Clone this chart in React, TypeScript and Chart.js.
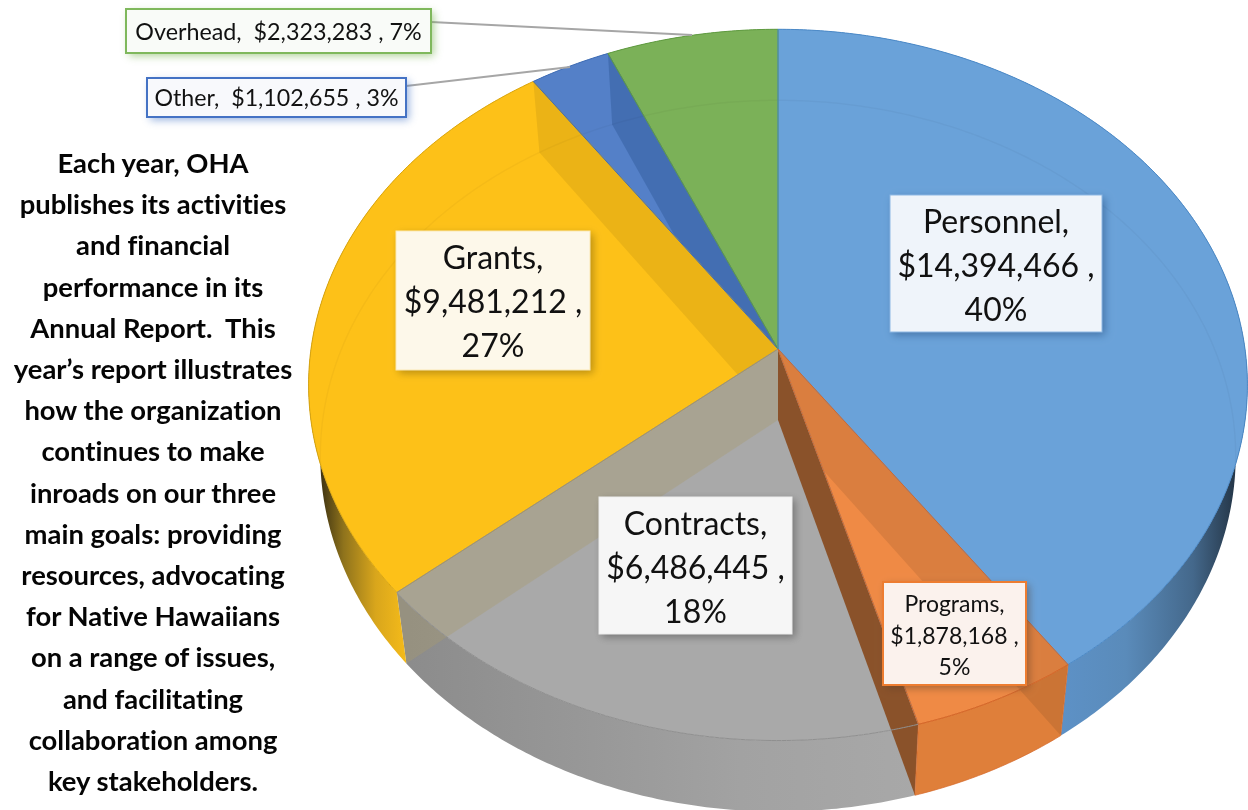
import React, { useEffect, useRef } from "react";
import { Chart, registerables } from "chart.js";

Chart.register(...registerables);

const categories = ["Personnel", "Programs", "Contracts", "Grants", "Other", "Overhead"];
const amounts = [14394466, 1878168, 6486445, 9481212, 1102655, 2323283];
const introLines = [
  "Each year, OHA",
  "publishes its activities",
  "and financial",
  "performance in its",
  "Annual Report.  This",
  "year\u2019s report illustrates",
  "how the organization",
  "continues to make",
  "inroads on our three",
  "main goals: providing",
  "resources, advocating",
  "for Native Hawaiians",
  "on a range of issues,",
  "and facilitating",
  "collaboration among",
  "key stakeholders.",
];

const topColors = ["#6AA2D9", "#EF8A45", "#A9A9A9", "#FDC118", "#5480C8", "#7BB158"];
const edgeColors = ["#4A88C6", "#D5682A", "#8F8F8F", "#D9A50F", "#3F6DB5", "#5F9A40"];
const wallStops: string[][] = [
  ["#5D91C6", "#5A8BBA", "#44688B", "#1E2C3A"],
  ["#DF7F3A", "#DF7F3A", "#DF7F3A", "#DF7F3A"],
  ["#8C8C8C", "#969696", "#A2A2A2", "#A8A8A8"],
  ["#2E2610", "#8F731C", "#D9A61C", "#F6BC1A"],
  ["#446EB3", "#446EB3", "#446EB3", "#446EB3"],
  ["#6A9C4A", "#6A9C4A", "#6A9C4A", "#6A9C4A"],
];
const wallRange: number[][] = [
  [1062, 1244],
  [918, 1068],
  [410, 918],
  [316, 408],
  [500, 620],
  [600, 778],
];

type Box = {
  x: number; y: number; w: number; h: number; size: number; gap: number; dy: number;
  fill: string; border: string; borderWidth: number; shadow: string; oneLine?: boolean;
};
const boxes: Box[] = [
  { x: 890, y: 195, w: 212, h: 137, size: 32, gap: 44, dy: 3, fill: "#EFF4FA", border: "#8DB8E4", borderWidth: 1, shadow: "rgba(40,80,130,.55)" },
  { x: 883, y: 582, w: 143, h: 103, size: 23, gap: 31.5, dy: 3, fill: "#FBF2ED", border: "#ED7D31", borderWidth: 2, shadow: "rgba(90,60,40,.5)" },
  { x: 599, y: 497, w: 193, h: 137, size: 32, gap: 44, dy: 3, fill: "#F6F6F6", border: "#EDEDED", borderWidth: 1, shadow: "rgba(60,60,60,.5)" },
  { x: 396, y: 231, w: 194, h: 139, size: 32, gap: 44, dy: 2, fill: "#FDF8EA", border: "#FBE9B5", borderWidth: 1, shadow: "rgba(110,85,10,.5)" },
  { x: 147, y: 78, w: 259, h: 39, size: 23.2, gap: 0, dy: 1, fill: "#F8F9FC", border: "#4472C4", borderWidth: 2, shadow: "rgba(68,114,196,.55)", oneLine: true },
  { x: 126, y: 9, w: 305, h: 44, size: 23.3, gap: 0, dy: 1, fill: "#F9FBF8", border: "#7FB85C", borderWidth: 2, shadow: "rgba(112,173,71,.55)", oneLine: true },
];
const leaders: (number[] | null)[] = [null, null, null, null, [406, 86, 570, 67], [431, 22, 692, 35]];
const strokeOrder = [3, 2, 4, 5, 0, 1];

const CX = 778, CY = 349, A = 467, B = 352, K = 0.101, DEPTH = 71, SHRINK = 0.975;
const LABEL_FONT = "Lato, 'Open Sans', sans-serif";

type Pt = [number, number];
const topPt = (t: number): Pt => {
  const u = Math.sin(t), v = -Math.cos(t), d = 1 - K * v;
  return [CX + (A * u) / d, CY + (B * v) / d];
};
const botPt = (t: number): Pt => {
  const p = topPt(t);
  return [CX + (p[0] - CX) * SHRINK, p[1] + DEPTH];
};
const samples = (a: number, b: number): number[] => {
  const n = Math.max(2, Math.ceil(Math.abs(b - a) / 0.01));
  return Array.from({ length: n + 1 }, (_, i) => a + ((b - a) * i) / n);
};
const facePath = (a: number, b: number) => {
  const p = new Path2D();
  p.moveTo(CX, CY);
  samples(a, b).forEach((t) => p.lineTo(...topPt(t)));
  p.closePath();
  return p;
};
const wallPath = (a: number, b: number) => {
  const p = new Path2D();
  samples(a, b).forEach((t, i) => (i ? p.lineTo(...topPt(t)) : p.moveTo(...topPt(t))));
  samples(b, a).forEach((t) => p.lineTo(...botPt(t)));
  p.closePath();
  return p;
};
const sidePath = (t: number) => {
  const p = new Path2D();
  p.moveTo(CX, CY);
  p.lineTo(CX, CY + DEPTH);
  p.lineTo(...botPt(t));
  p.lineTo(...topPt(t));
  p.closePath();
  return p;
};

const pie3d = {
  id: "pie3d",
  beforeDatasetDraw(chart: any) {
    const ctx: CanvasRenderingContext2D = chart.ctx;
    const arcs = chart.getDatasetMeta(0).data;
    const ang = arcs.map((a: any) => [a.startAngle + Math.PI / 2, a.endAngle + Math.PI / 2]);
    const total = amounts.reduce((s, v) => s + v, 0);

    // outer walls
    ang.forEach(([a, b]: number[], i: number) => {
      const [x0, x1] = wallRange[i];
      const g = ctx.createLinearGradient(x0, 0, x1, 0);
      const stops = wallStops[i];
      const pos = i === 0 ? [0, 0.35, 0.72, 1] : [0, 0.3, 0.65, 1];
      stops.forEach((c, k) => g.addColorStop(pos[k], c));
      ctx.fillStyle = g;
      ctx.fill(wallPath(a, b));
    });
    // top faces
    ang.forEach(([a, b]: number[], i: number) => {
      ctx.fillStyle = topColors[i];
      ctx.fill(facePath(a, b));
    });

    // cut faces, seen through the translucent slices
    const overlay = (t: number, clipIdx: number, withWall: boolean, color: string) => {
      ctx.save();
      const clip = new Path2D();
      clip.addPath(facePath(ang[clipIdx][0], ang[clipIdx][1]));
      if (withWall) clip.addPath(wallPath(ang[clipIdx][0], ang[clipIdx][1]));
      ctx.clip(clip);
      ctx.fillStyle = color;
      ctx.fill(sidePath(t));
      ctx.restore();
    };
    overlay(ang[3][1], 3, false, "rgba(0,0,0,.07)");
    overlay(ang[4][1], 4, false, "rgba(30,70,130,.3)");
    overlay(ang[3][0], 2, true, "rgba(169,155,110,.38)");
    overlay(ang[1][1], 2, true, "rgba(138,81,40,.98)");
    overlay(ang[0][1], 1, true, "rgba(0,0,0,.085)");

    // back rim seen through the top
    ctx.save();
    ctx.strokeStyle = "rgba(0,0,0,.03)";
    ctx.lineWidth = 1.5;
    ctx.beginPath();
    samples((-100 * Math.PI) / 180, (100 * Math.PI) / 180).forEach((t, i) =>
      i ? ctx.lineTo(...botPt(t)) : ctx.moveTo(...botPt(t))
    );
    ctx.stroke();
    ctx.restore();

    // outlines
    strokeOrder.forEach((i) => {
      const [a, b] = ang[i];
      ctx.strokeStyle = edgeColors[i];
      ctx.lineWidth = 1;
      ctx.stroke(facePath(a, b));
      if (i === 1) {
        ctx.globalAlpha = 0.7;
        ctx.stroke(wallPath(a, b));
        ctx.globalAlpha = 1;
      }
    });

    // leader lines
    leaders.forEach((l) => {
      if (!l) return;
      ctx.strokeStyle = "#A6A6A6";
      ctx.lineWidth = 2;
      ctx.beginPath();
      ctx.moveTo(l[0], l[1]);
      ctx.lineTo(l[2], l[3]);
      ctx.stroke();
    });

    // labels
    categories.forEach((name, i) => {
      const bx = boxes[i];
      ctx.save();
      ctx.shadowColor = bx.shadow;
      ctx.shadowBlur = 8;
      ctx.shadowOffsetX = 3;
      ctx.shadowOffsetY = 3;
      ctx.fillStyle = bx.fill;
      ctx.fillRect(bx.x, bx.y, bx.w, bx.h);
      ctx.restore();
      ctx.strokeStyle = bx.border;
      ctx.lineWidth = bx.borderWidth;
      ctx.strokeRect(bx.x, bx.y, bx.w, bx.h);
      const money = "$" + amounts[i].toLocaleString("en-US");
      const pct = Math.round((amounts[i] / total) * 100) + "%";
      const lines = bx.oneLine ? [`${name},  ${money} , ${pct}`] : [`${name},`, `${money} ,`, pct];
      ctx.fillStyle = "#111111";
      ctx.font = `${bx.size}px ${LABEL_FONT}`;
      ctx.textAlign = "center";
      ctx.textBaseline = "middle";
      const mid = bx.y + bx.h / 2 + bx.dy;
      lines.forEach((t, k) => {
        ctx.fillText(t, bx.x + bx.w / 2, mid + (k - (lines.length - 1) / 2) * bx.gap);
      });
    });
    return false;
  },
};

export default function App() {
  const ref = useRef<HTMLCanvasElement>(null);
  useEffect(() => {
    const chart = new Chart(ref.current!, {
      type: "pie",
      data: {
        labels: categories,
        datasets: [{ data: amounts, backgroundColor: topColors }],
      },
      options: {
        animation: false,
        responsive: false,
        plugins: { legend: { display: false }, tooltip: { enabled: false } },
      },
      plugins: [pie3d],
    } as any);
    return () => chart.destroy();
  }, []);
  return (
    <div style={{ position: "absolute", left: 0, top: 0, width: 1248, height: 810, background: "#fff", overflow: "hidden" }}>
      <canvas ref={ref} width={1248} height={810} style={{ position: "absolute", left: 0, top: 0 }} />
      <div
        style={{
          position: "absolute", left: 0, top: 142, width: 306, textAlign: "center",
          fontFamily: "Lato, 'Open Sans', sans-serif", fontWeight: 700, fontSize: 27.4,
          lineHeight: "41.2px", color: "#050505", whiteSpace: "pre", fontVariantLigatures: "none",
        }}
      >
        {introLines.map((l) => (
          <div key={l}>{l}</div>
        ))}
      </div>
    </div>
  );
}
